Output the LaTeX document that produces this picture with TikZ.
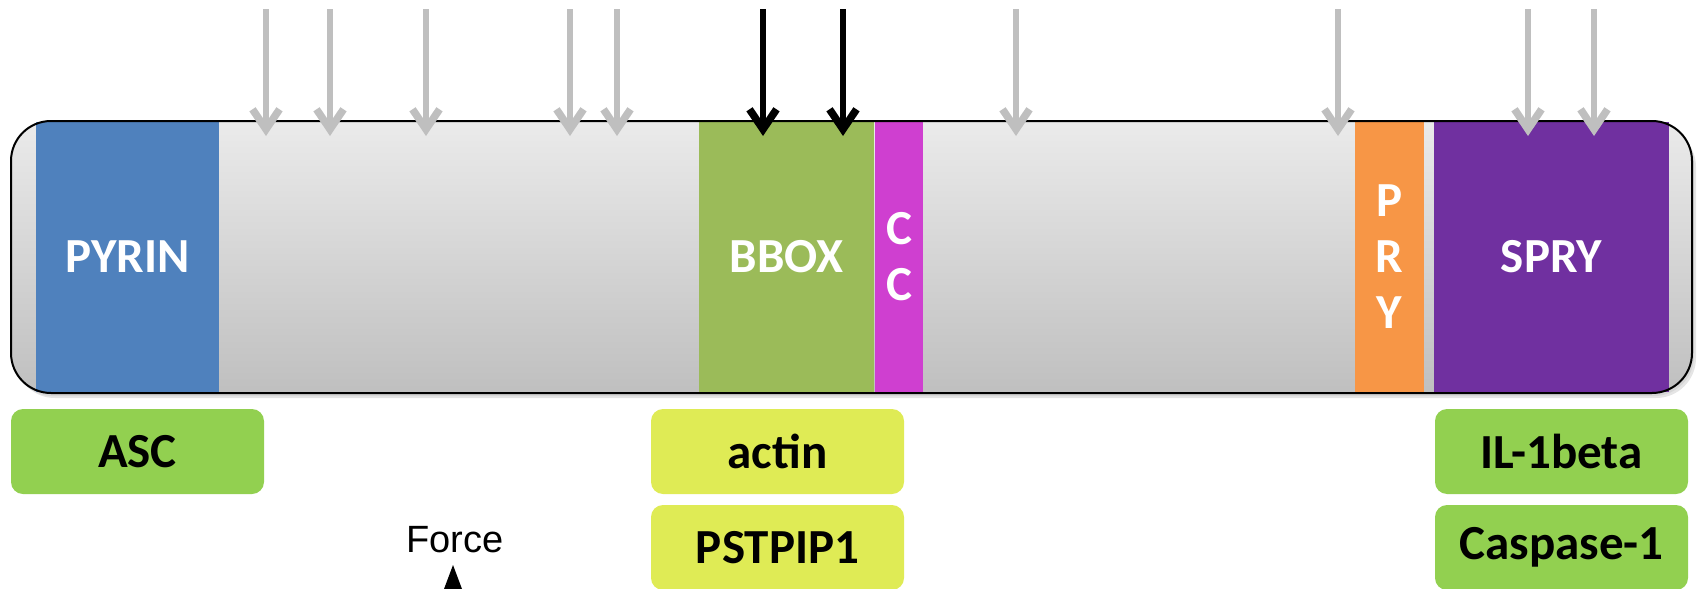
\documentclass[tikz,border=0pt]{standalone}
\usepackage{fontspec}
\setmainfont{Carlito}
\newfontfamily\forcefont{Liberation Sans}
\usetikzlibrary{arrows.meta}

\definecolor{pyrinblue}{HTML}{4F81BD}
\definecolor{bboxgreen}{HTML}{9BBB59}
\definecolor{ccmagenta}{HTML}{CF3FD0}
\definecolor{pryorange}{HTML}{F79646}
\definecolor{sprypurple}{HTML}{7030A0}
\definecolor{partnergreen}{HTML}{92D050}
\definecolor{partneryellow}{HTML}{DFEB55}
\definecolor{sitegray}{HTML}{BFBFBF}

\tikzset{
  domainbox/.style={inner sep=0pt, minimum height=270pt, text=white,
    font=\fontsize{49}{56}\selectfont\bfseries, align=center},
  partnerbox/.style={rounded corners=12pt, inner sep=0pt, minimum width=253pt,
    minimum height=85pt, font=\fontsize{49}{54}\selectfont\bfseries},
  sitehead/.style={-{Straight Barb[length=20pt,width=27pt,line width=7.5pt]}},
  sitearrow/.style={draw=sitegray, line width=6.5pt, sitehead},
  keyarrow/.style={draw=black, line width=6.5pt, sitehead},
}

\begin{document}
\begin{tikzpicture}[x=1pt,y=1pt]
\useasboundingbox (0,0) rectangle (1698,-589);

% soft shadow under the protein bar
\fill[black!10, rounded corners=40pt] (15,-127) rectangle (1696,-398);
\fill[black!16, rounded corners=40pt] (13,-124) rectangle (1694,-396);

% protein backbone
\shade[top color=black!8, bottom color=black!25, rounded corners=40pt]
  (11,-121) rectangle (1692,-393);

% domains
\node[domainbox, fill=pyrinblue, minimum width=183pt] (pyrin) at (127.5,-257) {PYRIN};
\node[domainbox, fill=bboxgreen, minimum width=175pt] (bbox) at (786.5,-257) {BBOX};
\node[domainbox, fill=ccmagenta, minimum width=48pt] (cc) at (899,-257) {C\\C};
\node[domainbox, fill=pryorange, minimum width=69pt] (pry) at (1389.5,-257) {P\\R\\Y};
\node[domainbox, fill=sprypurple, minimum width=235pt] (spry) at (1551.5,-257) {SPRY};

% outline of the backbone
\draw[line width=2pt, rounded corners=40pt] (11,-121) rectangle (1692,-393);

% interaction partners
\node[partnerbox, fill=partnergreen] (asc) at (137.5,-451.5) {ASC};
\node[partnerbox, fill=partneryellow] (actin) at (777.5,-451.5) {actin};
\node[partnerbox, fill=partneryellow] (pstpip) at (777.5,-547.5) {PSTPIP1};
\node[partnerbox, fill=partnergreen] (il1b) at (1561.5,-451.5) {IL-1beta};
\node[partnerbox, fill=partnergreen] (casp) at (1561.5,-547.5) {Caspase-1};

% mutation sites
\foreach \n/\x in {a/266,b/330,c/426,d/570,e/617,f/1016,g/1338,h/1528,i/1594}{
  \coordinate (s\n) at (\x,-9);
  \coordinate (t\n) at (\x,-136);
  \draw[sitearrow] (s\n) -- (t\n);
}
\foreach \n/\x in {k1/763,k2/843}{
  \coordinate (s\n) at (\x,-9);
  \coordinate (t\n) at (\x,-136);
  \draw[keyarrow] (s\n) -- (t\n);
}

% force label
\node[font=\forcefont\fontsize{38}{42}\selectfont] (force) at (455,-540) {Force};
\fill (453,-565) -- (444,-589) -- (462,-589) -- cycle;
\end{tikzpicture}
\end{document}
